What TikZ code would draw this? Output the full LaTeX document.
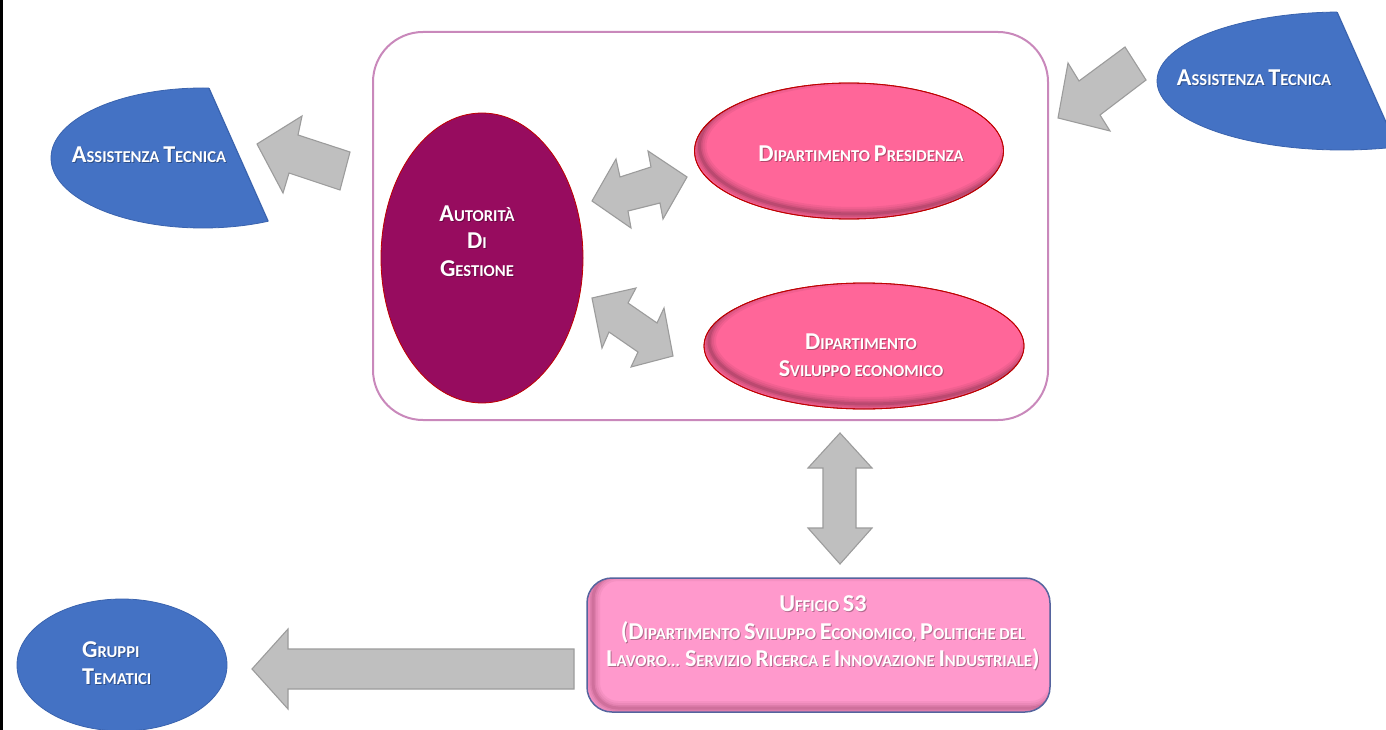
\documentclass[tikz,border=0pt]{standalone}
\usepackage{fontspec}
\setmainfont{Carlito}
\usetikzlibrary{shapes.geometric}
\definecolor{tblue}{HTML}{4472C4}
\definecolor{tblueD}{HTML}{3A63AE}
\definecolor{agfill}{HTML}{970C5F}
\definecolor{pinkf}{HTML}{FF6699}
\definecolor{redline}{HTML}{C00000}
\definecolor{uffill}{HTML}{FF99CC}
\definecolor{ufline}{HTML}{55649E}
\definecolor{framec}{HTML}{C988BB}
\definecolor{arrf}{HTML}{BFBFBF}
\definecolor{arrd}{HTML}{9C9C9C}
\newcommand\B[1]{{\fontsize{24.2}{28}\selectfont #1}}
\newcommand\lab[4][]{%
  \node[lbl,#1,text=black,text opacity=0.3,xshift=1pt,yshift=-1.2pt] at #3 {#4};
  \node[lbl,#1] (#2) at #3 {#4};}
\begin{document}
\begin{tikzpicture}[x=1pt,y=-1pt,
  lbl/.style={text=white, font=\fontsize{16.6}{27.5}\selectfont\bfseries, align=center, inner sep=0pt},
  blockarrow/.style={fill=arrf, draw=arrd, line width=1.1pt, line join=miter},
  pinkell/.style={ellipse, fill=pinkf, draw=redline, line width=0.8pt, inner sep=0pt},
  blueell/.style={ellipse, fill=tblue, draw=tblueD, line width=0.8pt, inner sep=0pt}]
\useasboundingbox (0,0) rectangle (1386,730);
\fill[white] (0,0) rectangle (1386,730);
\fill[black] (0,0) rectangle (2.5,730);

% frame
\node[draw=framec, line width=2pt, rounded corners=50pt, minimum width=675pt, minimum height=388pt, inner sep=0pt] (frame) at (710.5,226) {};

% Autorita di Gestione
\node[ellipse, fill=agfill, draw=redline, line width=0.8pt, minimum width=202pt, minimum height=290pt, inner sep=0pt] (ag) at (482,258) {};
\lab{agt}{(477,241)}{\B{A}UTORITÀ\\\B{D}I\\\B{G}ESTIONE}

% Dipartimento Presidenza
\node[pinkell, minimum width=309pt, minimum height=136pt] (dp) at (849,151) {};
\begin{scope}
\clip (849,151) ellipse (154.5 and 68);
\foreach \w/\o in {14/0.05,10/0.06,6/0.08,3/0.1}
  \draw[line width=\w pt, black, opacity=\o] (854,146) ellipse (154.5 and 68);
\end{scope}
\draw[redline, line width=0.8pt] (849,151) ellipse (154.5 and 68);
\lab{dpt}{(861,154)}{\B{D}IPARTIMENTO \B{P}RESIDENZA}

% Dipartimento Sviluppo economico
\node[pinkell, minimum width=320pt, minimum height=126pt] (ds) at (864,346) {};
\begin{scope}
\clip (864,346) ellipse (160 and 63);
\foreach \w/\o in {14/0.05,10/0.06,6/0.08,3/0.1}
  \draw[line width=\w pt, black, opacity=\o] (869,341) ellipse (160 and 63);
\end{scope}
\draw[redline, line width=0.8pt] (864,346) ellipse (160 and 63);
\lab{dst}{(861,355)}{\B{D}IPARTIMENTO\\\B{S}VILUPPO ECONOMICO}

% Ufficio S3
\node[rounded corners=25pt, fill=uffill, minimum width=463pt, minimum height=134pt, inner sep=0pt] (uf) at (818.5,645) {};
\begin{scope}
\clip[rounded corners=25pt] (587,578) rectangle (1050,712);
\foreach \w/\o in {14/0.05,10/0.06,6/0.08,3/0.1}
  \draw[line width=\w pt, black!60!purple, opacity=\o, rounded corners=25pt] (593,574) rectangle (1056,708);
\end{scope}
\draw[ufline, line width=1.5pt, rounded corners=25pt] (587,578) rectangle (1050,712);
\lab{uft}{(823,633)}{\B{U}FFICIO \B{S3}\\\B{(D}IPARTIMENTO \B{S}VILUPPO \B{E}CONOMICO, \B{P}OLITICHE DEL\\\B{L}AVORO... \B{S}ERVIZIO \B{R}ICERCA E \B{I}NNOVAZIONE \B{I}NDUSTRIALE\B{)}}

% Gruppi Tematici
\node[blueell, minimum width=210pt, minimum height=132pt] (gt) at (122,665) {};
\lab[align=left, anchor=west]{gtt}{(82,663)}{\B{G}RUPPI\\\B{T}EMATICI}

% Assistenza Tecnica (left)
\begin{scope}
\clip (0,50) -- (192,50) -- (285.4,260) -- (0,260) -- cycle;
\fill[tblue] (203,158) ellipse (152 and 70);
\draw[tblueD, line width=0.8pt] (203,158) ellipse (152 and 70);
\end{scope}
\begin{scope}
\clip (203,158) ellipse (152 and 70);
\draw[tblueD, line width=1.2pt] (192,50) -- (285.4,260);
\end{scope}
\lab{atl}{(149,155)}{\B{A}SSISTENZA \B{T}ECNICA}

% Assistenza Tecnica (right)
\begin{scope}
\clip (1100,-20) -- (1322.8,-20) -- (1420.6,200) -- (1100,200) -- cycle;
\fill[tblue] (1342,81) ellipse (185 and 69);
\draw[tblueD, line width=0.8pt] (1342,81) ellipse (185 and 69);
\end{scope}
\begin{scope}
\clip (1342,81) ellipse (185 and 69);
\draw[tblueD, line width=1.2pt] (1322.8,-20) -- (1420.6,200);
\end{scope}
\lab{atr}{(1254,78)}{\B{A}SSISTENZA \B{T}ECNICA}

% block arrows
\draw[blockarrow] (257,144) -- (302,116) -- (298,135) -- (350,152) -- (340,190) -- (289,173) -- (283,193) -- cycle;
\draw[blockarrow] (1058,118) -- (1068,63) -- (1079,81) -- (1125,47) -- (1146,80) -- (1100,115) -- (1110,131) -- cycle;
\draw[blockarrow] (592,201) -- (616,159) -- (620,177) -- (651,167) -- (648,151) -- (687,177) -- (663,219) -- (660,203) -- (628,211) -- (631,228) -- cycle;
\draw[blockarrow] (592,298) -- (636,288) -- (628,303) -- (657,323) -- (664,308) -- (673,356) -- (631,367) -- (638,352) -- (609,332) -- (602,348) -- cycle;
\draw[blockarrow] (840,433) -- (872,468) -- (856,468) -- (856,528) -- (872,528) -- (840,564) -- (808,528) -- (823,528) -- (823,468) -- (808,468) -- cycle;
\draw[blockarrow] (252,669) -- (288,629) -- (288,649) -- (574,649) -- (574,689) -- (288,689) -- (288,709) -- cycle;
\end{tikzpicture}
\end{document}
